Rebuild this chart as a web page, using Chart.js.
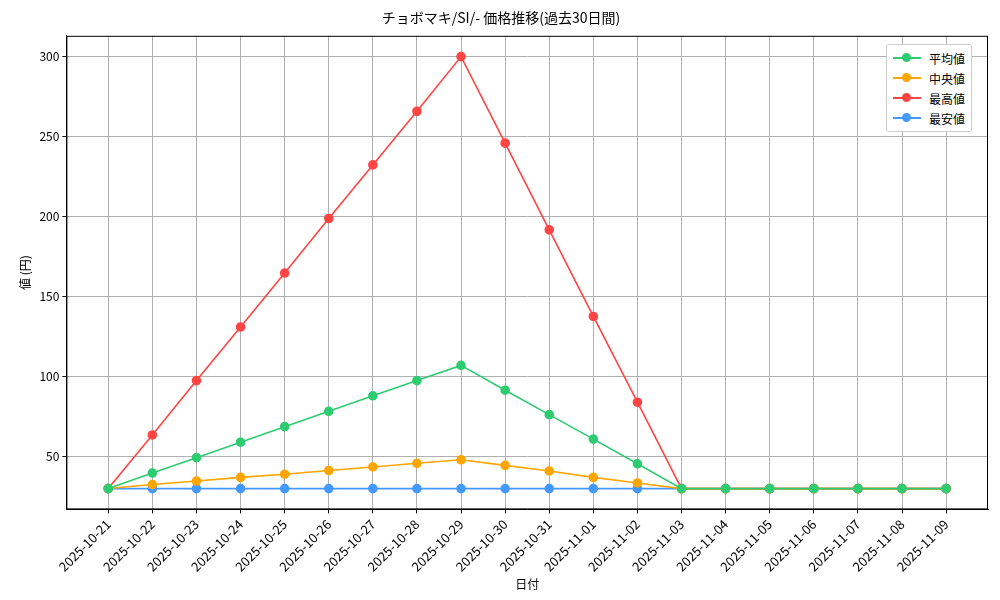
<!DOCTYPE html>
<html><head><meta charset="utf-8">
<script src="https://cdn.jsdelivr.net/npm/chart.js@4"></script>
<style>
body{margin:0;background:#fff;font-family:"Noto Sans CJK JP",sans-serif}
#wrap{position:relative;width:1000px;height:600px}
#legend{position:absolute;left:886px;top:44px;border:1px solid #ccc;border-radius:3px;background:#fff;padding:3px 6px;font-size:12px}
#legend div{display:flex;align-items:center;height:20px}
#legend span.l{position:relative;width:28px;height:2px;margin-right:8px}
#legend span.l i{position:absolute;left:9px;top:-4px;width:9px;height:9px;border-radius:50%}
</style></head>
<body><div id="wrap"><canvas id="c" width="1000" height="600"></canvas><div id="legend"></div></div>
<script>
const dates = ["2025-10-21","2025-10-22","2025-10-23","2025-10-24","2025-10-25","2025-10-26","2025-10-27","2025-10-28","2025-10-29","2025-10-30","2025-10-31","2025-11-01","2025-11-02","2025-11-03","2025-11-04","2025-11-05","2025-11-06","2025-11-07","2025-11-08","2025-11-09"];
const avgValues = [30,39.7,49.3,59,68.7,78.3,88,97.5,107,91.5,76.2,60.9,45.5,30,30,30,30,30,30,30];
const medianValues = [30,32.5,34.7,37,39,41.3,43.5,45.8,48,44.5,41,37,33.5,30,30,30,30,30,30,30];
const maxValues = [30,63.5,97.5,131,164.7,198.8,232.3,265.8,300,245.9,191.7,137.6,84,30,30,30,30,30,30,30];
const minValues = [30,30,30,30,30,30,30,30,30,30,30,30,30,30,30,30,30,30,30,30];
const yTicks = [50,100,150,200,250,300];

const series = [
  {label:"平均値", data:avgValues, color:"#2ecc71"},
  {label:"中央値", data:medianValues, color:"#ffa500"},
  {label:"最高値", data:maxValues, color:"#ff4444"},
  {label:"最安値", data:minValues, color:"#4499ff"}
];
const font = {family:"Noto Sans CJK JP", size:12};

const frame = {
  id: "frame",
  afterDatasetsDraw(chart) {
    const a = chart.chartArea, ctx = chart.ctx;
    ctx.save();
    ctx.strokeStyle = "#000"; ctx.lineWidth = 1;
    ctx.strokeRect(a.left + 0.5, a.top + 0.5, a.right - a.left - 1, a.bottom - a.top - 1);
    ctx.restore();
  }
};

new Chart(document.getElementById("c"), {
  type: "line",
  data: {
    datasets: series.map(s => ({
      label: s.label,
      data: s.data.map((v, i) => ({x: i, y: v})),
      borderColor: s.color, backgroundColor: s.color,
      borderWidth: 1.6, pointRadius: 4, pointHoverRadius: 4, tension: 0
    }))
  },
  options: {
    responsive: false, animation: false,
    layout: {padding: {left: 14, right: 12, top: 5, bottom: 8}},
    plugins: {
      legend: {display: false},
      title: {display: true, text: "チョボマキ/SI/- 価格推移(過去30日間)", color: "#000", font: {family: font.family, size: 14, weight: "normal"}, padding: {top: 4, bottom: 10}}
    },
    scales: {
      x: {
        type: "linear", min: -0.95, max: 19.95,
        afterBuildTicks: a => { a.ticks = dates.map((d, i) => ({value: i})); },
        ticks: {callback: v => dates[v], maxRotation: 45, minRotation: 45, color: "#000", font: {family: font.family, size: 13}, autoSkip: false},
        grid: {color: "#b0b0b0", drawTicks: true, tickLength: 4, tickColor: "#000"},
        border: {color: "#000"},
        title: {display: true, text: "日付", color: "#000", font: font, padding: 0}
      },
      y: {
        min: 17, max: 313,
        afterBuildTicks: a => { a.ticks = yTicks.map(v => ({value: v})); },
        ticks: {color: "#000", font: font},
        grid: {color: "#b0b0b0", tickLength: 4, tickColor: "#000"},
        border: {color: "#000"},
        title: {display: true, text: "値 (円)", color: "#000", font: font}
      }
    }
  },
  plugins: [frame]
});

const lg = document.getElementById("legend");
series.forEach(s => {
  const d = document.createElement("div");
  d.innerHTML = `<span class="l" style="background:${s.color}"><i style="background:${s.color}"></i></span>${s.label}`;
  lg.appendChild(d);
});
</script></body></html>
